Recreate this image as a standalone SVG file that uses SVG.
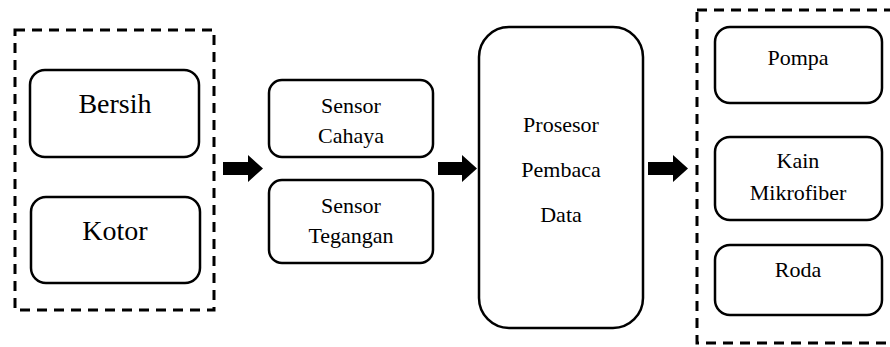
<svg xmlns="http://www.w3.org/2000/svg" width="890" height="347" viewBox="0 0 890 347">
  <style>
    .box { fill: #ffffff; stroke: #000000; stroke-width: 2.5; }
    .group { fill: none; stroke: #000000; stroke-width: 3; stroke-dasharray: 10 7; }
    .lbl { font-family: 'Liberation Serif', Tinos, 'Times New Roman', Times, 'Nimbus Roman', 'Nimbus Roman No9 L', FreeSerif, 'Noto Serif', 'DejaVu Serif', serif; font-size: 22px; fill: #000000; text-anchor: middle; }
    .big { font-size: 28px; }
    .arrow { fill: #000000; }
  </style>
  <rect width="890" height="347" fill="#ffffff"/>

  <!-- Input states -->
  <g id="input-group">
    <rect class="group" x="15" y="30" width="199" height="280"/>
  </g>
  <g id="node-bersih">
    <rect class="box" x="30" y="70" width="169" height="87" rx="15"/>
    <text class="lbl big" x="115" y="113">Bersih</text>
  </g>
  <g id="node-kotor">
    <rect class="box" x="31" y="197" width="169" height="86" rx="15"/>
    <text class="lbl big" x="115" y="240">Kotor</text>
  </g>

  <!-- Sensors -->
  <g id="node-sensor-cahaya">
    <rect class="box" x="269" y="80" width="164" height="77" rx="13"/>
    <text class="lbl" x="351" y="113">Sensor</text>
    <text class="lbl" x="351" y="143">Cahaya</text>
  </g>
  <g id="node-sensor-tegangan">
    <rect class="box" x="269" y="180" width="164" height="83" rx="13"/>
    <text class="lbl" x="351" y="213">Sensor</text>
    <text class="lbl" x="351" y="243">Tegangan</text>
  </g>

  <!-- Processor -->
  <g id="node-prosesor">
    <rect class="box" x="479" y="27" width="164" height="301" rx="30"/>
    <text class="lbl" x="561" y="132">Prosesor</text>
    <text class="lbl" x="561" y="177">Pembaca</text>
    <text class="lbl" x="561" y="222">Data</text>
  </g>

  <!-- Outputs -->
  <g id="output-group">
    <rect class="group" x="697" y="10" width="200" height="333"/>
  </g>
  <g id="node-pompa">
    <rect class="box" x="715" y="27" width="167" height="76" rx="15"/>
    <text class="lbl" x="798" y="65">Pompa</text>
  </g>
  <g id="node-kain">
    <rect class="box" x="715" y="137" width="167" height="83" rx="15"/>
    <text class="lbl" x="798" y="168">Kain</text>
    <text class="lbl" x="798" y="200">Mikrofiber</text>
  </g>
  <g id="node-roda">
    <rect class="box" x="715" y="245" width="167" height="70" rx="15"/>
    <text class="lbl" x="798" y="277">Roda</text>
  </g>

  <!-- Block arrows between stages -->
  <g id="connectors">
    <polygon class="arrow" points="223,162 248,162 248,155 263,168.5 248,182 248,175 223,175"/>
    <polygon class="arrow" points="438,162 462,162 462,155 477,168.5 462,182 462,175 438,175"/>
    <polygon class="arrow" points="648,162 673,162 673,155 688,168.5 673,182 673,175 648,175"/>
  </g>
</svg>
